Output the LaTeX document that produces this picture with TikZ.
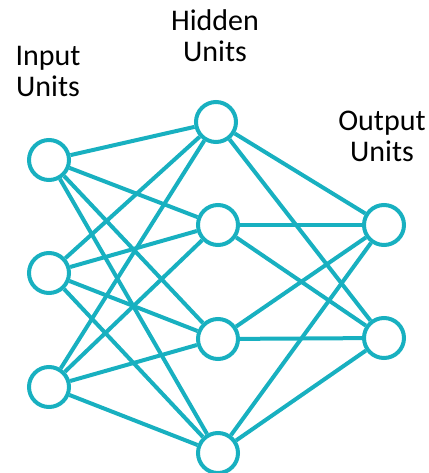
\documentclass[tikz,border=0pt]{standalone}
\usepackage{fontspec}
\setmainfont{Carlito}
\definecolor{teal}{RGB}{24,176,192}
\begin{document}
\begin{tikzpicture}[x=1pt,y=-1pt,
  unit/.style={circle,draw=teal,line width=4pt,fill=white,minimum size=40pt,inner sep=0pt},
  conn/.style={draw=teal,line width=4pt},
  lbl/.style={font=\fontsize{30}{31}\selectfont,align=center,inner sep=0pt,anchor=south}]
\useasboundingbox (0,0) rectangle (428,473);
\node[unit] (i1) at (49,160) {};
\node[unit] (i2) at (49,273) {};
\node[unit] (i3) at (49,387) {};
\node[unit] (h1) at (216,122) {};
\node[unit] (h2) at (218,225) {};
\node[unit] (h3) at (218,339) {};
\node[unit] (h4) at (218,453) {};
\node[unit] (o1) at (384,225) {};
\node[unit] (o2) at (384,338) {};
\foreach \a in {i1,i2,i3}{\foreach \b in {h1,h2,h3,h4}{\draw[conn] (\a) -- (\b);}}
\foreach \a in {h1,h2,h3,h4}{\foreach \b in {o1,o2}{\draw[conn] (\a) -- (\b);}}
\node[lbl] (lin) at (48,97) {Input\\Units};
\node[lbl] (lhid) at (215,62) {Hidden\\Units};
\node[lbl] (lout) at (382,162) {Output\\Units};
\end{tikzpicture}
\end{document}
